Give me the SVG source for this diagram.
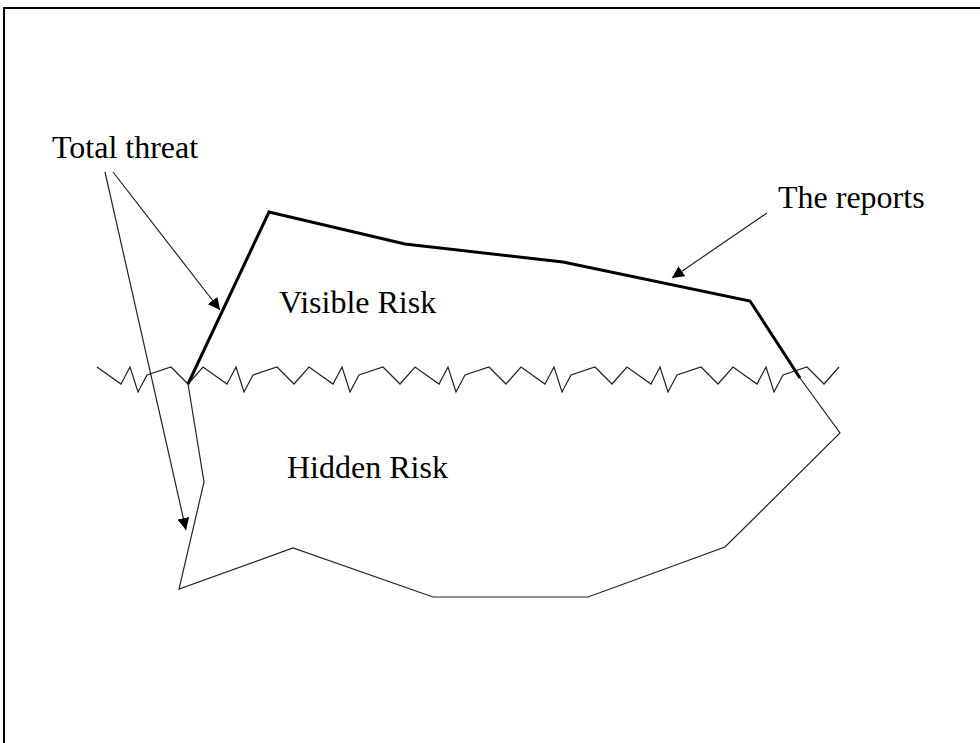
<svg xmlns="http://www.w3.org/2000/svg" width="980" height="743" viewBox="0 0 980 743">
<style>
.thin{fill:none;stroke:#222;stroke-width:1.2;stroke-linejoin:miter}
.thick{fill:none;stroke:#000;stroke-width:3;stroke-linejoin:miter}
.lbl{font-family:"Liberation Serif","Times New Roman",serif;font-size:32px;fill:#000}
</style>
<defs>
<marker id="ah" viewBox="0 0 10 10" refX="10" refY="5" markerWidth="12" markerHeight="12" markerUnits="userSpaceOnUse" orient="auto">
<path d="M0,0 L10,5 L0,10 z" fill="#000"/>
</marker>
</defs>
<rect x="0" y="0" width="980" height="743" fill="#fff"/>
<rect x="4" y="8" width="990" height="760" fill="none" stroke="#000" stroke-width="2"/>
<g id="hidden-risk">
<polyline class="thin" points="188,384 204,482 179,589 293,548 433,597 588,597 725,547 840,433 800,378"/>
<text class="lbl" x="287" y="478">Hidden Risk</text>
</g>
<g id="visible-risk">
<polyline class="thick" points="188,384 269,212 405,244 563,262 750,301 800,378"/>
<text class="lbl" x="279" y="313">Visible Risk</text>
</g>
<g id="waterline">
<path class="thin" d="M97,367 l24,17 l9,-17 l8,25 l9,-17 l24,-8 l17,17 l15,-17 l24,17 l9,-17 l8,25 l9,-17 l24,-8 l17,17 l15,-17 l24,17 l9,-17 l8,25 l9,-17 l24,-8 l17,17 l15,-17 l24,17 l9,-17 l8,25 l9,-17 l24,-8 l17,17 l15,-17 l24,17 l9,-17 l8,25 l9,-17 l24,-8 l17,17 l15,-17 l24,17 l9,-17 l8,25 l9,-17 l24,-8 l17,17 l15,-17 l24,17 l9,-17 l8,25 l9,-17 l24,-8 l17,17 l15,-17"/>
</g>
<g id="total-threat">
<text class="lbl" x="52" y="158">Total threat</text>
</g>
<g id="the-reports">
<text class="lbl" x="778" y="208">The reports</text>
</g>
<g id="connectors">
<line class="thin" x1="113" y1="172" x2="220" y2="310" marker-end="url(#ah)"/>
<line class="thin" x1="105" y1="172" x2="186" y2="530" marker-end="url(#ah)"/>
<line class="thin" x1="767" y1="213" x2="672" y2="278" marker-end="url(#ah)"/>
</g>
</svg>
